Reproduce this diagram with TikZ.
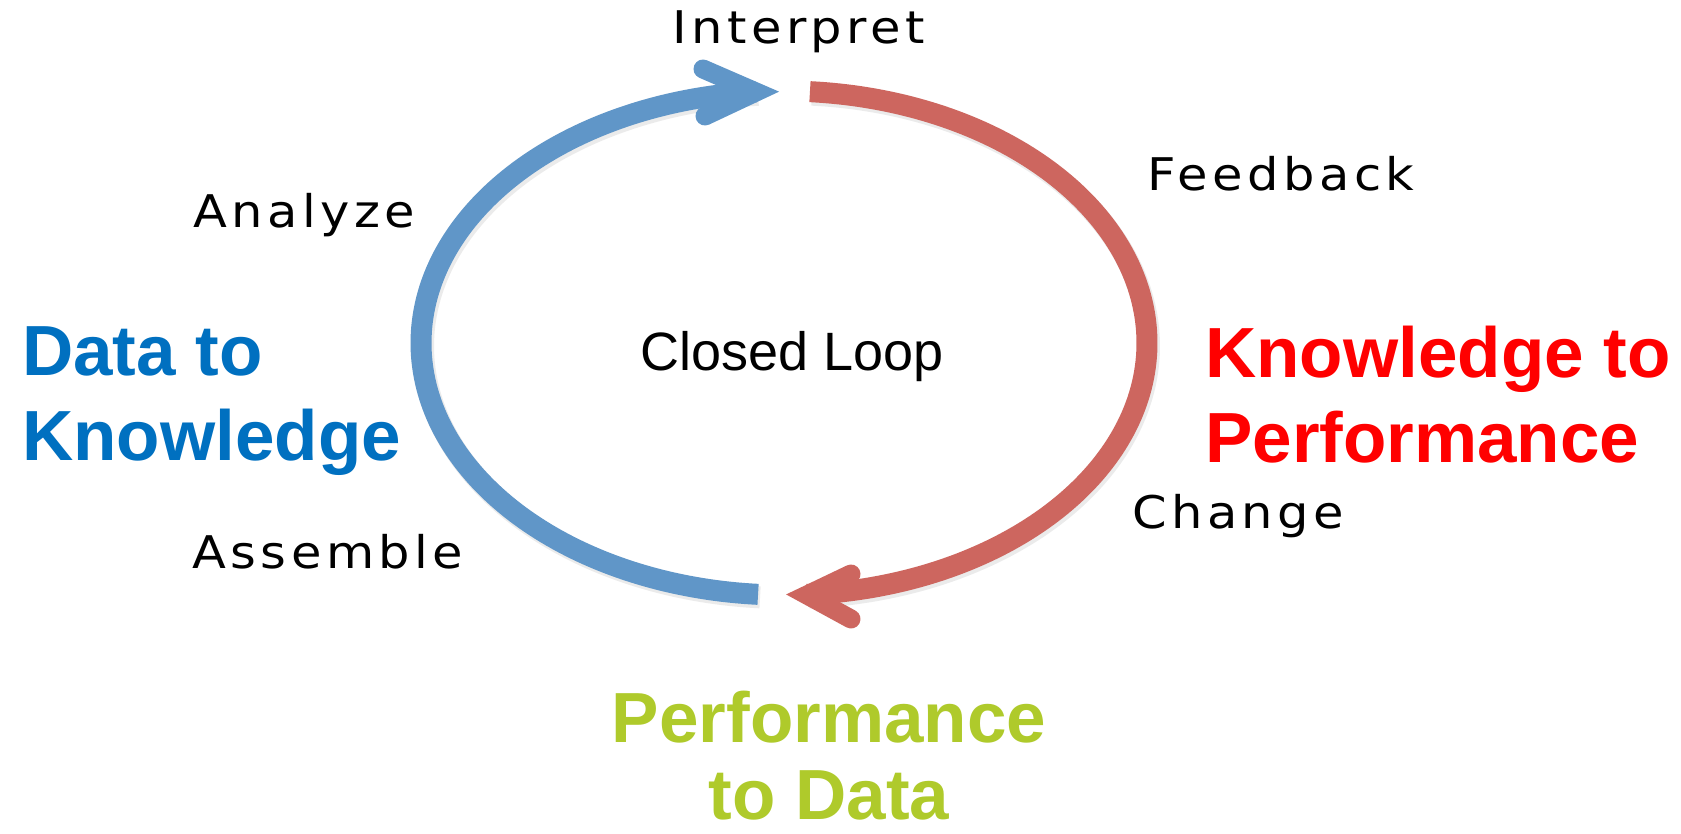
\documentclass[tikz,border=0pt]{standalone}
\usepackage{fontspec}
\setmainfont{Liberation Sans}
\newfontfamily\lblfont[LetterSpace=10,FakeStretch=1.1]{DejaVu Sans}
\newfontfamily\bigfont{Liberation Sans}
\definecolor{arcBlue}{RGB}{96,150,200}
\definecolor{arcRed}{RGB}{205,102,95}
\definecolor{txtBlue}{RGB}{0,112,192}
\definecolor{txtRed}{RGB}{255,0,0}
\definecolor{txtGreen}{RGB}{175,202,43}
\tikzset{
  loopshadow/.style={draw=black, draw opacity=0.08, line width=22pt, shift={(2,3)}},
  loopblue/.style={draw=arcBlue, line width=21pt},
  loopred/.style={draw=arcRed, line width=21pt},
  headblue/.style={draw=arcBlue, line width=19pt, line cap=round, line join=miter},
  headred/.style={draw=arcRed, line width=19pt, line cap=round, line join=miter},
  steplabel/.style={font={\lblfont\fontsize{45}{54}\selectfont}, anchor=base west, inner sep=0pt, text=black},
  phaselabel/.style={font={\bigfont\bfseries\fontsize{71}{85}\selectfont}, inner sep=0pt},
}
\begin{document}
\begin{tikzpicture}[x=1pt,y=-1pt]
\useasboundingbox (0,0) rectangle (1681,833);
\fill[white] (0,0) rectangle (1681,833);

% arrowhead geometry
\coordinate (bTip) at (756,92);
\coordinate (bArmA) at (703,69);
\coordinate (bArmB) at (705,116);
\coordinate (rTip) at (807,595);
\coordinate (rArmA) at (851,574);
\coordinate (rArmB) at (851,619);

% shadows
\draw[loopshadow] plot[domain=94.1:265.6, samples=150] ({784+363*cos(\x)}, {343+252*sin(\x)});
\draw[loopshadow] plot[domain=-85.9:86.4, samples=150] ({784+363*cos(\x)}, {343+252*sin(\x)});

% blue loop half (bottom -> left -> top)
\draw[loopblue] plot[domain=94.1:265.6, samples=150] ({784+363*cos(\x)}, {343+252*sin(\x)});
\draw[headblue] (bArmA) -- (bTip) -- (bArmB);

% red loop half (top -> right -> bottom)
\draw[loopred] plot[domain=-85.9:86.4, samples=150] ({784+363*cos(\x)}, {343+252*sin(\x)});
\draw[headred] (rArmA) -- (rTip) -- (rArmB);

% step labels
\node[steplabel] (interpret) at (672,43) {Interpret};
\node[steplabel] (analyze) at (193,227) {Analyze};
\node[steplabel] (assemble) at (192,568) {Assemble};
\node[steplabel] (feedback) at (1147,190) {Feedback};
\node[steplabel] (change) at (1132,528) {Change};

% centre
\node[font={\bigfont\fontsize{54}{60}\selectfont}, anchor=base west, inner sep=0pt] (closed) at (640,370) {Closed Loop};

% phase labels
\node[phaselabel, text=txtBlue, align=left, anchor=north west] (d2k) at (22,326) {Data to\\Knowledge};
\node[phaselabel, text=txtRed, align=left, anchor=north west] (k2p) at (1205,326) {Knowledge to\\Performance};
\node[phaselabel, text=txtGreen, align=center, anchor=north, font={\bigfont\bfseries\fontsize{71}{77}\selectfont}] (p2d) at (829,691) {Performance\\to Data};
\end{tikzpicture}
\end{document}
